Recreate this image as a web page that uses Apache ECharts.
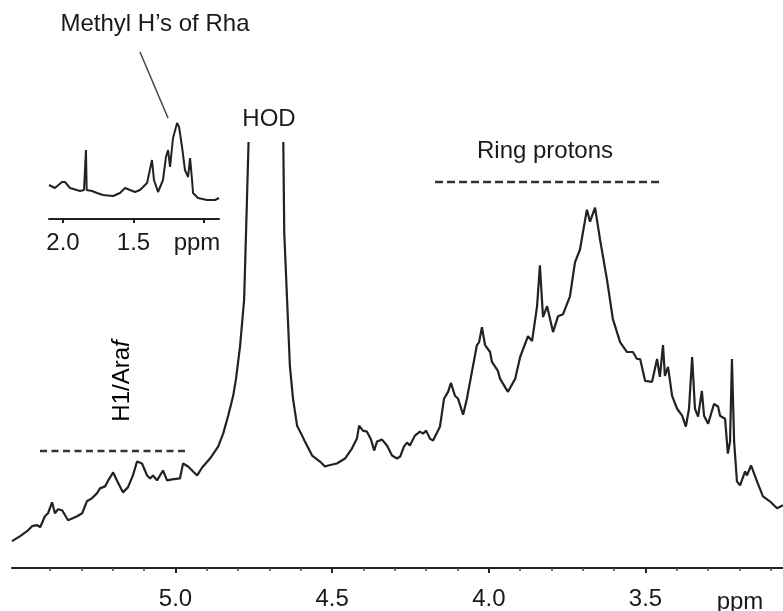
<!DOCTYPE html>
<html><head><meta charset="utf-8">
<script src="https://cdn.jsdelivr.net/npm/echarts@6/dist/echarts.min.js"></script>
<style>html,body{margin:0;padding:0;background:#fff}#c{width:783px;height:611px}</style>
</head><body><div id="c"></div>
<script>
// Main spectrum: chemical shift (ppm) and intensity (arbitrary units)
const mainPpm = [5.522,5.496,5.474,5.458,5.442,5.432,5.417,5.407,5.394,5.385,5.375,5.362,5.343,5.314,5.298,5.283,5.267,5.251,5.241,5.225,5.215,5.199,5.187,5.168,5.152,5.136,5.123,5.107,5.091,5.081,5.072,5.059,5.040,5.027,5.011,4.986,4.976,4.960,4.931,4.915,4.890,4.864,4.848,4.832,4.816,4.807,4.794,4.781,4.772,4.767,4.764,4.711,4.660,4.656,4.653,4.644,4.635,4.625,4.612,4.596,4.587,4.564,4.539,4.523,4.513,4.485,4.459,4.437,4.421,4.414,4.402,4.389,4.376,4.366,4.357,4.341,4.325,4.309,4.293,4.283,4.271,4.261,4.252,4.236,4.220,4.210,4.200,4.188,4.178,4.156,4.143,4.130,4.121,4.108,4.098,4.082,4.070,4.054,4.038,4.031,4.022,4.012,3.996,3.990,3.971,3.964,3.939,3.916,3.900,3.875,3.862,3.846,3.837,3.827,3.814,3.795,3.779,3.763,3.741,3.725,3.709,3.687,3.677,3.661,3.645,3.623,3.604,3.581,3.559,3.540,3.527,3.517,3.501,3.479,3.463,3.454,3.444,3.438,3.428,3.415,3.399,3.383,3.371,3.361,3.351,3.342,3.332,3.320,3.313,3.300,3.281,3.268,3.262,3.246,3.237,3.230,3.224,3.217,3.208,3.198,3.182,3.176,3.163,3.144,3.125,3.103,3.080,3.061];
const mainIntensity = [27,32,37,42,43,41,52,55,66,55,59,58,48,52,55,67,70,75,80,82,88,96,88,76,81,93,107,105,93,90,93,88,98,88,89,90,105,102,93,101,110,122,135,153,173,190,223,270,370,427,800,1400,800,427,337,270,203,170,143,133,127,113,107,102,103,105,110,120,130,143,138,137,129,118,127,129,123,113,110,112,122,126,123,133,137,135,138,130,128,142,170,177,186,173,170,154,170,197,224,227,242,224,217,207,198,190,177,190,212,233,228,263,304,252,263,237,253,255,273,307,320,360,348,362,330,290,250,227,217,217,210,210,188,187,210,192,224,193,202,173,160,153,142,160,212,160,152,178,153,145,165,162,153,150,115,127,210,127,87,83,97,93,103,87,72,67,60,63];

// Inset spectrum (methyl region)
const insetPpm = [2.099,2.057,2.007,1.986,1.950,1.879,1.851,1.842,1.837,1.832,1.794,1.759,1.716,1.645,1.596,1.560,1.525,1.489,1.454,1.404,1.369,1.355,1.326,1.291,1.270,1.255,1.241,1.220,1.191,1.177,1.156,1.135,1.113,1.099,1.085,1.078,1.043,0.979,0.922,0.894];
const insetIntensity = [34,31,37,37,31,28,29,29,69,29,28,26,24,23,26,31,29,27,29,36,59,39,27,39,62,69,52,81,96,92,72,49,42,61,39,26,21,19,19,21];

// Tick labels
const mainTickLabels = [5.0, 4.5, 4.0, 3.5];
const insetTickValues = [2.0, 1.5, 1.0];
const insetTickLabels = [2.0, 1.5];

const FONT = '"Liberation Sans", Arial, Helvetica, sans-serif';
const INK = '#1a1a1a';

const chart = echarts.init(document.getElementById('c'), null, {renderer: 'canvas'});
chart.setOption({
  animation: false,
  backgroundColor: '#ffffff',
  grid: [
    {left: 12, right: 0, top: 143, bottom: 41},
    {left: 49, width: 170, top: 119, height: 100}
  ],
  xAxis: [
    {
      gridIndex: 0, type: 'value', inverse: true, min: 3.061, max: 5.522, splitNumber: 5,
      axisLine: {show: true, lineStyle: {color: '#222', width: 2}},
      axisTick: {show: true, customValues: mainTickLabels, length: 5, lineStyle: {color: '#222', width: 2}},
      minorTick: {show: true, splitNumber: 5, length: 3, lineStyle: {color: '#444', width: 1.5}},
      axisLabel: {customValues: mainTickLabels, formatter: v => Number(v).toFixed(1), fontSize: 24, color: INK, margin: 19, fontFamily: FONT},
      splitLine: {show: false}
    },
    {
      gridIndex: 1, type: 'value', inverse: true, min: 0.894, max: 2.099,
      axisLine: {show: true, lineStyle: {color: '#222', width: 2}},
      axisTick: {show: true, customValues: insetTickValues, length: 4, lineStyle: {color: '#222', width: 2}},
      axisLabel: {customValues: insetTickLabels, formatter: v => Number(v).toFixed(1), fontSize: 24, color: INK, margin: 12, fontFamily: FONT},
      splitLine: {show: false}
    }
  ],
  yAxis: [
    {gridIndex: 0, type: 'value', min: 0, max: 427, show: false},
    {gridIndex: 1, type: 'value', min: 0, max: 100, show: false}
  ],
  series: [
    {
      type: 'line', xAxisIndex: 0, yAxisIndex: 0, showSymbol: false, clip: true, silent: true,
      lineStyle: {color: '#222', width: 2.2},
      data: mainPpm.map((p, i) => [p, mainIntensity[i]])
    },
    {
      type: 'line', xAxisIndex: 1, yAxisIndex: 1, showSymbol: false, clip: true, silent: true,
      lineStyle: {color: '#222', width: 2},
      data: insetPpm.map((p, i) => [p, insetIntensity[i]])
    }
  ],
  graphic: [
    {type: 'text', x: 155, y: 24, style: {text: 'Methyl H\u2019s of Rha', fill: INK, font: '24px ' + FONT, align: 'center', verticalAlign: 'middle'}},
    {type: 'line', shape: {x1: 140, y1: 52, x2: 168, y2: 118}, style: {stroke: '#444', lineWidth: 1.5}},
    {type: 'text', x: 269, y: 119, style: {text: 'HOD', fill: INK, font: '24px ' + FONT, align: 'center', verticalAlign: 'middle'}},
    {type: 'text', x: 545, y: 151, style: {text: 'Ring protons', fill: INK, font: '24px ' + FONT, align: 'center', verticalAlign: 'middle'}},
    {type: 'line', shape: {x1: 435, y1: 182, x2: 663, y2: 182}, style: {stroke: '#333', lineWidth: 2.5, lineDash: [8, 4]}},
    {type: 'line', shape: {x1: 40, y1: 451, x2: 188, y2: 451}, style: {stroke: '#333', lineWidth: 2.5, lineDash: [7, 4.5]}},
    {type: 'text', x: 122, y: 381, rotation: Math.PI / 2, style: {
      text: '{a|H1/Ara}{b|f}', align: 'center', verticalAlign: 'middle',
      rich: {a: {fontSize: 24, fontFamily: FONT, color: INK}, b: {fontSize: 24, fontFamily: FONT, fontStyle: 'italic', color: INK}}
    }},
    {type: 'text', x: 740, y: 602, style: {text: 'ppm', fill: INK, font: '24px ' + FONT, align: 'center', verticalAlign: 'middle'}},
    {type: 'text', x: 197, y: 243, style: {text: 'ppm', fill: INK, font: '24px ' + FONT, align: 'center', verticalAlign: 'middle'}}
  ]
});
</script>
</body></html>
